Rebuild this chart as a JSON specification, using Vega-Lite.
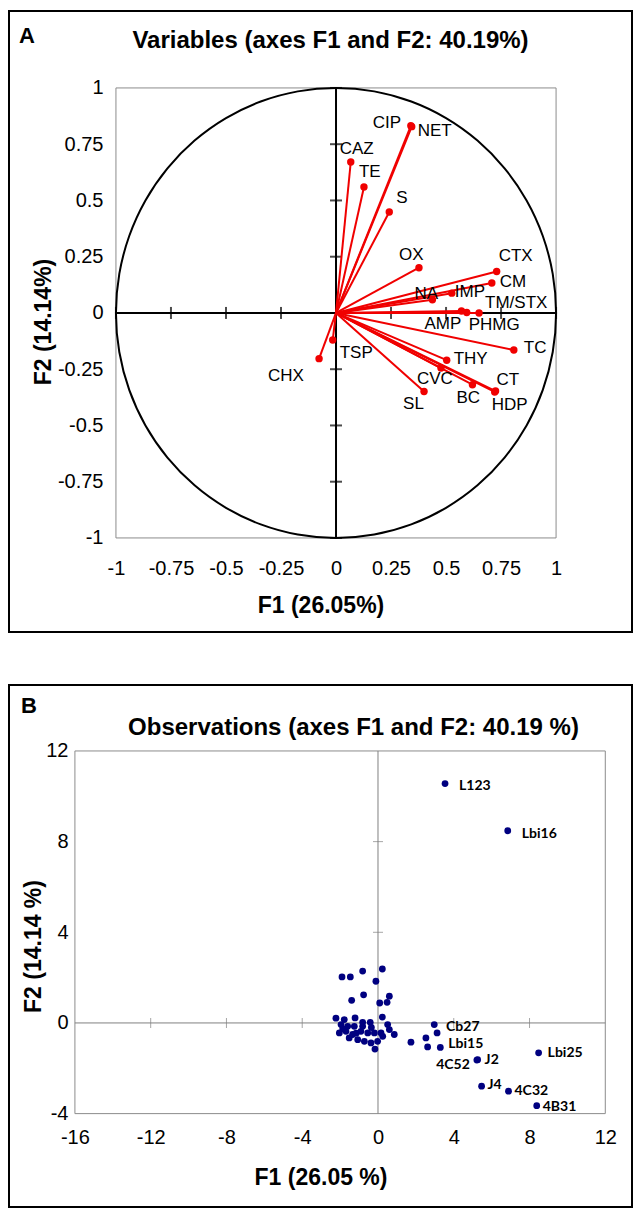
{
  "$schema": "https://vega.github.io/schema/vega-lite/v6.json",
  "background": "white",
  "padding": {"left": 8, "top": 10, "right": 0, "bottom": 0},
  "columns": 1,
  "align": "none",
  "spacing": 51,
  "datasets": {
    "vars": [
      {"name": "CIP", "x": 0.340, "y": 0.832},
      {"name": "NET", "x": 0.344, "y": 0.828},
      {"name": "CAZ", "x": 0.067, "y": 0.671},
      {"name": "TE", "x": 0.127, "y": 0.560},
      {"name": "S", "x": 0.242, "y": 0.449},
      {"name": "OX", "x": 0.377, "y": 0.201},
      {"name": "CTX", "x": 0.730, "y": 0.184},
      {"name": "CM", "x": 0.708, "y": 0.133},
      {"name": "IMP", "x": 0.526, "y": 0.088},
      {"name": "NA", "x": 0.438, "y": 0.059},
      {"name": "TM/STX", "x": 0.650, "y": 0.000},
      {"name": "AMP", "x": 0.570, "y": 0.009},
      {"name": "PHMG", "x": 0.594, "y": 0.002},
      {"name": "TC", "x": 0.808, "y": -0.165},
      {"name": "THY", "x": 0.503, "y": -0.210},
      {"name": "CVC", "x": 0.477, "y": -0.245},
      {"name": "BC", "x": 0.620, "y": -0.319},
      {"name": "CT", "x": 0.725, "y": -0.347},
      {"name": "HDP", "x": 0.721, "y": -0.351},
      {"name": "SL", "x": 0.400, "y": -0.349},
      {"name": "TSP", "x": -0.015, "y": -0.120},
      {"name": "CHX", "x": -0.077, "y": -0.203}
    ],
    "circle": [
      {"deg": 0, "cx": 1, "cy": 0}, {"deg": 10, "cx": 0.9848, "cy": 0.1736}, {"deg": 20, "cx": 0.9397, "cy": 0.342},
      {"deg": 30, "cx": 0.866, "cy": 0.5}, {"deg": 40, "cx": 0.766, "cy": 0.6428}, {"deg": 50, "cx": 0.6428, "cy": 0.766},
      {"deg": 60, "cx": 0.5, "cy": 0.866}, {"deg": 70, "cx": 0.342, "cy": 0.9397}, {"deg": 80, "cx": 0.1736, "cy": 0.9848},
      {"deg": 90, "cx": 0, "cy": 1}, {"deg": 100, "cx": -0.1736, "cy": 0.9848}, {"deg": 110, "cx": -0.342, "cy": 0.9397},
      {"deg": 120, "cx": -0.5, "cy": 0.866}, {"deg": 130, "cx": -0.6428, "cy": 0.766}, {"deg": 140, "cx": -0.766, "cy": 0.6428},
      {"deg": 150, "cx": -0.866, "cy": 0.5}, {"deg": 160, "cx": -0.9397, "cy": 0.342}, {"deg": 170, "cx": -0.9848, "cy": 0.1736},
      {"deg": 180, "cx": -1, "cy": 0}, {"deg": 190, "cx": -0.9848, "cy": -0.1736}, {"deg": 200, "cx": -0.9397, "cy": -0.342},
      {"deg": 210, "cx": -0.866, "cy": -0.5}, {"deg": 220, "cx": -0.766, "cy": -0.6428}, {"deg": 230, "cx": -0.6428, "cy": -0.766},
      {"deg": 240, "cx": -0.5, "cy": -0.866}, {"deg": 250, "cx": -0.342, "cy": -0.9397}, {"deg": 260, "cx": -0.1736, "cy": -0.9848},
      {"deg": 270, "cx": 0, "cy": -1}, {"deg": 280, "cx": 0.1736, "cy": -0.9848}, {"deg": 290, "cx": 0.342, "cy": -0.9397},
      {"deg": 300, "cx": 0.5, "cy": -0.866}, {"deg": 310, "cx": 0.6428, "cy": -0.766}, {"deg": 320, "cx": 0.766, "cy": -0.6428},
      {"deg": 330, "cx": 0.866, "cy": -0.5}, {"deg": 340, "cx": 0.9397, "cy": -0.342}, {"deg": 350, "cx": 0.9848, "cy": -0.1736}
    ],
    "ticksA": [{"v": -1}, {"v": -0.75}, {"v": -0.5}, {"v": -0.25}, {"v": 0.25}, {"v": 0.5}, {"v": 0.75}, {"v": 1}],
    "ticksBx": [{"v": -12}, {"v": -8}, {"v": -4}, {"v": 4}, {"v": 8}],
    "ticksBy": [{"v": 4}, {"v": 8}],
    "obs": [
      {"label": "", "x": -1.90, "y": 2.03}, {"label": "", "x": -1.46, "y": 2.03}, {"label": "", "x": -0.81, "y": 2.29},
      {"label": "", "x": 0.23, "y": 2.38}, {"label": "", "x": -0.11, "y": 1.84}, {"label": "", "x": -0.76, "y": 1.24},
      {"label": "", "x": -1.39, "y": 1.00}, {"label": "", "x": 0.60, "y": 1.18}, {"label": "", "x": 0.48, "y": 0.91},
      {"label": "", "x": 0.09, "y": 0.88}, {"label": "", "x": 0.23, "y": 0.26}, {"label": "", "x": -2.22, "y": 0.21},
      {"label": "", "x": -1.78, "y": 0.15}, {"label": "", "x": -1.21, "y": 0.22}, {"label": "", "x": -0.81, "y": 0.03},
      {"label": "", "x": -0.41, "y": 0.03}, {"label": "", "x": 0.51, "y": -0.07}, {"label": "", "x": -1.95, "y": -0.07},
      {"label": "", "x": -1.60, "y": -0.15}, {"label": "", "x": -1.25, "y": -0.15}, {"label": "", "x": -2.04, "y": -0.44},
      {"label": "", "x": -1.69, "y": -0.37}, {"label": "", "x": -1.34, "y": -0.51}, {"label": "", "x": -0.90, "y": -0.37},
      {"label": "", "x": -0.54, "y": -0.44}, {"label": "", "x": -0.19, "y": -0.44}, {"label": "", "x": 0.16, "y": -0.44},
      {"label": "", "x": -1.07, "y": -0.74}, {"label": "", "x": -0.72, "y": -0.81}, {"label": "", "x": -0.37, "y": -0.88},
      {"label": "", "x": -0.02, "y": -0.81}, {"label": "", "x": 0.25, "y": -0.59}, {"label": "", "x": 0.86, "y": -0.51},
      {"label": "", "x": 0.60, "y": -0.29}, {"label": "", "x": -0.16, "y": -1.15}, {"label": "", "x": -1.86, "y": -0.26},
      {"label": "", "x": -1.52, "y": -0.66}, {"label": "", "x": -0.81, "y": -0.15}, {"label": "", "x": -1.15, "y": -0.45},
      {"label": "", "x": -0.35, "y": -0.20}, {"label": "", "x": 1.74, "y": -0.85}, {"label": "", "x": 2.53, "y": -0.66},
      {"label": "", "x": 2.62, "y": -1.06}, {"label": "", "x": 2.97, "y": -0.07},
      {"label": "Cb27", "x": 3.12, "y": -0.44}, {"label": "Lbi15", "x": 3.29, "y": -1.08},
      {"label": "J2", "x": 5.26, "y": -1.62}, {"label": "4C52", "x": 5.22, "y": -1.64},
      {"label": "Lbi25", "x": 8.48, "y": -1.32}, {"label": "J4", "x": 5.47, "y": -2.79},
      {"label": "4C32", "x": 6.89, "y": -3.01}, {"label": "4B31", "x": 8.38, "y": -3.65},
      {"label": "L123", "x": 3.54, "y": 10.56}, {"label": "Lbi16", "x": 6.85, "y": 8.48}
    ]
  },
  "concat": [
    {
      "width": 623,
      "height": 621,
      "title": {"text": "Variables (axes F1 and F2: 40.19%)", "offset": -42, "dx": 10},
      "layer": [
        {
          "data": {"values": [{}]},
          "mark": {"type": "rect", "fill": null, "stroke": "#8c8c8c", "strokeWidth": 1},
          "encoding": {
            "x": {"datum": -1, "type": "quantitative",
                  "scale": {"domain": [-1.486, 1.345], "nice": false, "zero": false},
                  "axis": {"values": [-1, -0.75, -0.5, -0.25, 0, 0.25, 0.5, 0.75, 1], "labelExpr": "'' + datum.value", "offset": -94, "labelPadding": 20, "title": "F1 (26.05%)", "titlePadding": 16}},
            "x2": {"datum": 1},
            "y": {"datum": 1, "type": "quantitative",
                  "scale": {"domain": [-1.418, 1.342], "nice": false, "zero": false},
                  "axis": {"values": [-1, -0.75, -0.5, -0.25, 0, 0.25, 0.5, 0.75, 1], "labelExpr": "'' + datum.value", "offset": -107, "labelPadding": 13, "title": "F2 (14.14%)", "titlePadding": 2}},
            "y2": {"datum": -1}
          }
        },
        {
          "data": {"values": [{}]},
          "mark": {"type": "text", "text": "A", "font": "'Liberation Sans', Arial, sans-serif", "fontSize": 22, "fontWeight": "bold", "align": "center", "baseline": "middle"},
          "encoding": {"x": {"datum": -1.405, "type": "quantitative"}, "y": {"datum": 1.231, "type": "quantitative"}}
        },
        {
          "data": {"name": "circle"},
          "mark": {"type": "line", "color": "black", "strokeWidth": 2, "interpolate": "cardinal-closed"},
          "encoding": {
            "x": {"field": "cx", "type": "quantitative"},
            "y": {"field": "cy", "type": "quantitative"},
            "order": {"field": "deg", "type": "quantitative"}
          }
        },
        {
          "data": {"values": [{}]},
          "mark": {"type": "rule", "color": "black", "strokeWidth": 2},
          "encoding": {"x": {"datum": -1, "type": "quantitative"}, "x2": {"datum": 1}, "y": {"datum": 0, "type": "quantitative"}}
        },
        {
          "data": {"values": [{}]},
          "mark": {"type": "rule", "color": "black", "strokeWidth": 2},
          "encoding": {"y": {"datum": -1, "type": "quantitative"}, "y2": {"datum": 1}, "x": {"datum": 0, "type": "quantitative"}}
        },
        {
          "data": {"name": "ticksA"},
          "mark": {"type": "tick", "orient": "vertical", "color": "black", "size": 12, "thickness": 2},
          "encoding": {"x": {"field": "v", "type": "quantitative"}, "y": {"datum": 0, "type": "quantitative"}}
        },
        {
          "data": {"name": "ticksA"},
          "mark": {"type": "tick", "orient": "horizontal", "color": "black", "size": 12, "thickness": 2},
          "encoding": {"y": {"field": "v", "type": "quantitative"}, "x": {"datum": 0, "type": "quantitative"}}
        },
        {
          "data": {"name": "vars"},
          "mark": {"type": "rule", "color": "#f00000", "strokeWidth": 2},
          "encoding": {
            "x": {"field": "x", "type": "quantitative"},
            "y": {"field": "y", "type": "quantitative"},
            "x2": {"datum": 0},
            "y2": {"datum": 0}
          }
        },
        {
          "data": {"name": "vars"},
          "mark": {"type": "circle", "color": "#f00000", "opacity": 1, "size": 55},
          "encoding": {"x": {"field": "x", "type": "quantitative"}, "y": {"field": "y", "type": "quantitative"}}
        },
        {
          "data": {"name": "vars"},
          "mark": {
            "type": "text", "font": "'Liberation Sans', Arial, sans-serif", "fontSize": 17, "align": "left", "baseline": "middle", "color": "black",
            "dx": {"expr": "[-38,6,-11,-5,7,-20,2,8,3,-18,6,-37,2,10,7,-24,-16,1,-3,-21,7,-51][indexof(['CIP','NET','CAZ','TE','S','OX','CTX','CM','IMP','NA','TM/STX','AMP','PHMG','TC','THY','CVC','BC','CT','HDP','SL','TSP','CHX'], datum.name)]"},
            "dy": {"expr": "[-3,4,-13,-15,-14,-13,-16,-1,-1,-6,-10,13,12,-2,-1,11,13,-11,13,13,13,17][indexof(['CIP','NET','CAZ','TE','S','OX','CTX','CM','IMP','NA','TM/STX','AMP','PHMG','TC','THY','CVC','BC','CT','HDP','SL','TSP','CHX'], datum.name)]"}
          },
          "encoding": {
            "x": {"field": "x", "type": "quantitative"},
            "y": {"field": "y", "type": "quantitative"},
            "text": {"field": "name", "type": "nominal"}
          }
        }
      ]
    },
    {
      "width": 623,
      "height": 522,
      "title": {"text": "Observations (axes F1 and F2: 40.19 %)", "offset": -55, "dx": 33},
      "layer": [
        {
          "data": {"values": [{}]},
          "mark": {"type": "rect", "fill": null, "stroke": "#8c8c8c", "strokeWidth": 1},
          "encoding": {
            "x": {"datum": -16, "type": "quantitative",
                  "scale": {"domain": [-19.48, 13.41], "nice": false, "zero": false},
                  "axis": {"values": [-16, -12, -8, -4, 0, 4, 8, 12], "labelExpr": "'' + datum.value", "offset": -93, "labelPadding": 13, "title": "F1 (26.05 %)", "titlePadding": 19}},
            "x2": {"datum": 12},
            "y": {"datum": 12, "type": "quantitative",
                  "scale": {"domain": [-8.12, 14.91], "nice": false, "zero": false},
                  "axis": {"values": [-4, 0, 4, 8, 12], "labelExpr": "'' + datum.value", "offset": -66, "labelPadding": 7, "title": "F2 (14.14 %)", "titlePadding": 0}},
            "y2": {"datum": -4}
          }
        },
        {
          "data": {"values": [{}]},
          "mark": {"type": "text", "text": "B", "font": "'Liberation Sans', Arial, sans-serif", "fontSize": 22, "fontWeight": "bold", "align": "center", "baseline": "middle"},
          "encoding": {"x": {"datum": -18.43, "type": "quantitative"}, "y": {"datum": 13.98, "type": "quantitative"}}
        },
        {
          "data": {"values": [{}]},
          "mark": {"type": "rule", "color": "#808080", "strokeWidth": 1},
          "encoding": {"x": {"datum": -16, "type": "quantitative"}, "x2": {"datum": 12}, "y": {"datum": 0, "type": "quantitative"}}
        },
        {
          "data": {"values": [{}]},
          "mark": {"type": "rule", "color": "#808080", "strokeWidth": 1},
          "encoding": {"y": {"datum": -4, "type": "quantitative"}, "y2": {"datum": 12}, "x": {"datum": 0, "type": "quantitative"}}
        },
        {
          "data": {"name": "ticksBx"},
          "mark": {"type": "tick", "orient": "vertical", "color": "#808080", "size": 10, "thickness": 1},
          "encoding": {"x": {"field": "v", "type": "quantitative"}, "y": {"datum": 0, "type": "quantitative"}}
        },
        {
          "data": {"name": "ticksBy"},
          "mark": {"type": "tick", "orient": "horizontal", "color": "#808080", "size": 10, "thickness": 1},
          "encoding": {"y": {"field": "v", "type": "quantitative"}, "x": {"datum": 0, "type": "quantitative"}}
        },
        {
          "data": {"name": "obs"},
          "mark": {"type": "circle", "color": "#000080", "opacity": 1, "size": 46},
          "encoding": {"x": {"field": "x", "type": "quantitative"}, "y": {"field": "y", "type": "quantitative"}}
        },
        {
          "data": {"name": "obs"},
          "transform": [{"filter": "datum.label != '' && datum.label != '4C52'"}],
          "mark": {
            "type": "text", "font": "Lato, 'Open Sans', sans-serif", "fontSize": 14, "fontWeight": "bold", "baseline": "middle", "color": "black", "align": "left",
            "dx": {"expr": "[14,14,9,8,7,9,6,6,6][indexof(['L123','Lbi16','Cb27','Lbi15','J2','Lbi25','J4','4C32','4B31'], datum.label)]"},
            "dy": {"expr": "[2,3,-6,-3,0,0,-1,0,1][indexof(['L123','Lbi16','Cb27','Lbi15','J2','Lbi25','J4','4C32','4B31'], datum.label)]"}
          },
          "encoding": {
            "x": {"field": "x", "type": "quantitative"},
            "y": {"field": "y", "type": "quantitative"},
            "text": {"field": "label", "type": "nominal"}
          }
        },
        {
          "data": {"name": "obs"},
          "transform": [{"filter": "datum.label == '4C52'"}],
          "mark": {"type": "text", "font": "Lato, 'Open Sans', sans-serif", "fontSize": 14, "fontWeight": "bold", "baseline": "middle", "color": "black", "align": "right", "dx": -7, "dy": 5},
          "encoding": {
            "x": {"field": "x", "type": "quantitative"},
            "y": {"field": "y", "type": "quantitative"},
            "text": {"field": "label", "type": "nominal"}
          }
        }
      ]
    }
  ],
  "config": {
    "view": {"stroke": "black", "strokeWidth": 2},
    "axis": {
      "grid": false, "ticks": false, "domain": false, "labelOverlap": false, "labelFlush": false,
      "labelFont": "'Liberation Sans', Arial, sans-serif", "labelFontSize": 20, "labelColor": "black",
      "titleFont": "'Liberation Sans', Arial, sans-serif", "titleFontSize": 23, "titleFontWeight": "bold", "titleColor": "black"
    },
    "title": {
      "font": "'Liberation Sans', Arial, sans-serif", "fontSize": 24, "fontWeight": "bold", "color": "black",
      "anchor": "middle", "frame": "group", "baseline": "alphabetic"
    }
  }
}
